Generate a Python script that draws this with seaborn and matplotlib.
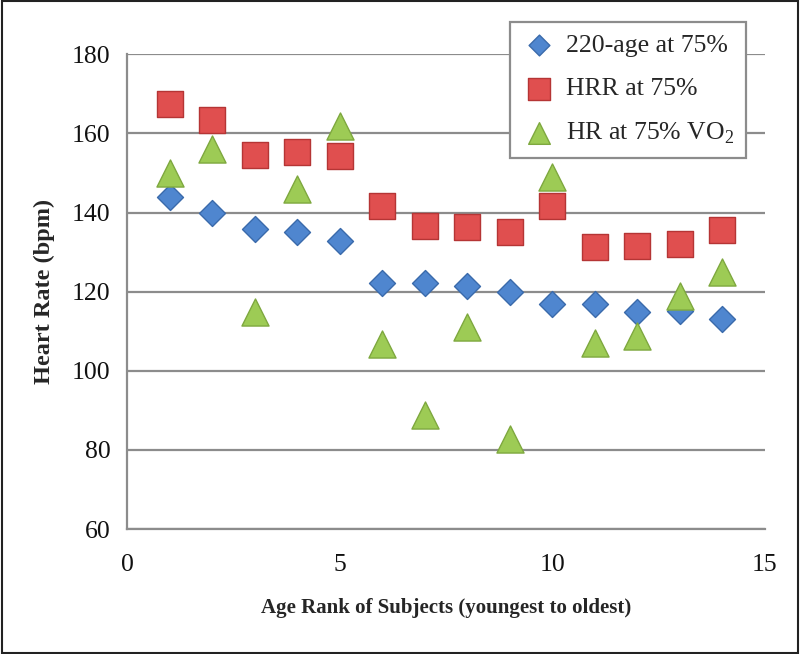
import numpy as np
import pandas as pd
import seaborn as sns
import matplotlib.pyplot as plt

# Age rank of each subject (youngest to oldest)
subjects = [1, 2, 3, 4, 5, 6, 7, 8, 9, 10, 11, 12, 13, 14]

# Target heart rate estimates (bpm)
hr_220_age = [144, 139.8, 135.8, 135.1, 132.8, 122.3, 122.3, 121.5, 120, 117, 117, 114.9, 115, 113.2]
hr_hrr = [167.4, 163.4, 154.6, 155.4, 154.4, 141.6, 136.5, 136.4, 135.1, 141.6, 131.3, 131.6, 132, 135.5]
hr_vo2 = [149.9, 156, 114.9, 146, 162, 106.9, 88.9, 111, 82.8, 148.9, 107, 108.9, 119, 124.9]

series_names = ["220-age at 75%", "HRR at 75%", "HR at 75% VO$_2$"]

sns.set_style("white")
plt.rcParams["font.family"] = ["Liberation Serif", "DejaVu Serif"]
plt.rcParams["mathtext.fontset"] = "custom"
plt.rcParams["mathtext.rm"] = "Liberation Serif"

fig = plt.figure(figsize=(8, 6.54), dpi=100)
ax = fig.add_axes([0.159, 0.191, 0.797, 0.726])

# border round the whole figure
fig.patches.append(plt.Rectangle((0.002, 0.002), 0.996, 0.996, transform=fig.transFigure,
                                 fill=False, edgecolor="#222222", linewidth=1.5))

df = pd.DataFrame({"rank": subjects, "a": hr_220_age, "b": hr_hrr, "c": hr_vo2})

sns.scatterplot(data=df, x="rank", y="a", marker="D", s=175, color="#4f86cf",
                edgecolor="#3a6aab", linewidth=1, label=series_names[0], ax=ax, zorder=3)
sns.scatterplot(data=df, x="rank", y="b", marker="s", s=360, color="#e04f4f",
                edgecolor="#b53535", linewidth=1, label=series_names[1], ax=ax, zorder=3)
sns.scatterplot(data=df, x="rank", y="c", marker="^", s=380, color="#9dcb55",
                edgecolor="#7ea83f", linewidth=1, label=series_names[2], ax=ax, zorder=4)

ax.set_xlim(0, 15)
ax.set_ylim(60, 180)
ax.set_xticks([0, 5, 10, 15])
ax.set_yticks(np.arange(60, 181, 20))
ax.yaxis.grid(True, color="#8c8c8c", linewidth=1.6)
ax.set_axisbelow(True)

for side in ["top", "right"]:
    ax.spines[side].set_visible(False)
for side in ["left", "bottom"]:
    ax.spines[side].set_color("#8c8c8c")
    ax.spines[side].set_linewidth(1.6)

ax.tick_params(axis="both", direction="out", length=6, width=1.6, color="#8c8c8c",
               labelsize=18.5, labelcolor="#111111")
ax.tick_params(axis="x", pad=12)
ax.tick_params(axis="y", pad=6)

ax.set_xlabel("Age Rank of Subjects (youngest to oldest)", fontsize=15, fontweight="bold", labelpad=16)
ax.set_ylabel("Heart Rate (bpm)", fontsize=17.5, fontweight="bold", labelpad=12)

leg = ax.legend(loc="upper right", bbox_to_anchor=(0.932, 0.966), bbox_transform=fig.transFigure,
                borderaxespad=0, fontsize=18.5, frameon=True, fancybox=False, edgecolor="#8c8c8c",
                borderpad=0.45, labelspacing=0.8, handletextpad=0.4, handlelength=1.3,
                markerscale=0.8)
leg.get_frame().set_linewidth(1.6)
leg.get_frame().set_alpha(1)

fig.savefig("out.png", dpi=100)
